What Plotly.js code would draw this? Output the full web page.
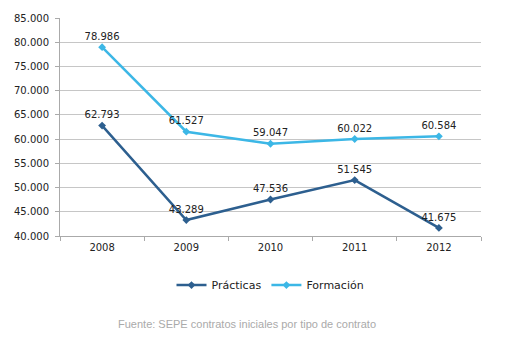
<!DOCTYPE html>
<html>
<head>
<meta charset="utf-8">
<script src="https://cdn.plot.ly/plotly-3.0.1.min.js"></script>
<style>html,body{margin:0;padding:0;background:#fff;}#chart{width:510px;height:350px;}</style>
</head>
<body>
<div id="chart"></div>
<script>
const years = ['2008', '2009', '2010', '2011', '2012'];
const practicas = [62793, 43289, 47536, 51545, 41675];
const formacion = [78986, 61527, 59047, 60022, 60584];
const yTicks = [40000, 45000, 50000, 55000, 60000, 65000, 70000, 75000, 80000, 85000];
const sourceText = 'Fuente: SEPE contratos iniciales por tipo de contrato';

const common = {
  x: years,
  type: 'scatter',
  mode: 'lines+markers+text',
  textposition: 'top center',
  texttemplate: '%{y:,d}',
  textfont: {family: 'DejaVu Sans, sans-serif', size: 10, color: '#222'},
  cliponaxis: false
};

const traces = [
  Object.assign({}, common, {
    y: practicas, name: 'Prácticas',
    line: {color: '#2d5f8f', width: 2.5},
    marker: {symbol: 'diamond', size: 6, color: '#2d5f8f'}
  }),
  Object.assign({}, common, {
    y: formacion, name: 'Formación',
    line: {color: '#3cb7e6', width: 2.5},
    marker: {symbol: 'diamond', size: 6, color: '#3cb7e6'}
  })
];

const layout = {
  width: 510, height: 350,
  margin: {l: 60, r: 29, t: 18, b: 114},
  paper_bgcolor: '#fff', plot_bgcolor: '#fff',
  separators: ',.',
  showlegend: true,
  font: {family: 'DejaVu Sans, sans-serif', size: 10, color: '#222'},
  xaxis: {
    type: 'category',
    range: [-0.5, 4.5],
    tickson: 'boundaries',
    ticks: 'outside', ticklen: 4, tickcolor: '#aaa',
    showline: true, linecolor: '#aaa', linewidth: 1,
    showgrid: false, zeroline: false,
    ticklabelstandoff: 2,
    tickfont: {family: 'DejaVu Sans, sans-serif', size: 10, color: '#222'}
  },
  yaxis: {
    range: [40000, 85000],
    tickvals: yTicks,
    tickformat: ',d',
    ticks: 'outside', ticklen: 4, tickcolor: '#aaa',
    showline: true, linecolor: '#aaa', linewidth: 1,
    gridcolor: '#c6c6c6', gridwidth: 1, zeroline: false,
    ticklabelstandoff: 4,
    tickfont: {family: 'DejaVu Sans, sans-serif', size: 10, color: '#222'}
  },
  legend: {
    orientation: 'h', x: 0.5, xanchor: 'center', y: -0.225, yanchor: 'middle',
    font: {family: 'DejaVu Sans, sans-serif', size: 11, color: '#222'},
    itemwidth: 30, tracegroupgap: 0
  },
  annotations: [{
    text: sourceText, xref: 'paper', yref: 'paper',
    x: 0.445, y: -0.405, xanchor: 'center', yanchor: 'middle',
    showarrow: false,
    font: {family: 'Liberation Sans, Arial, sans-serif', size: 11, color: '#aaa'}
  }]
};

Plotly.newPlot('chart', traces, layout, {displayModeBar: false, staticPlot: true});
</script>
</body>
</html>
